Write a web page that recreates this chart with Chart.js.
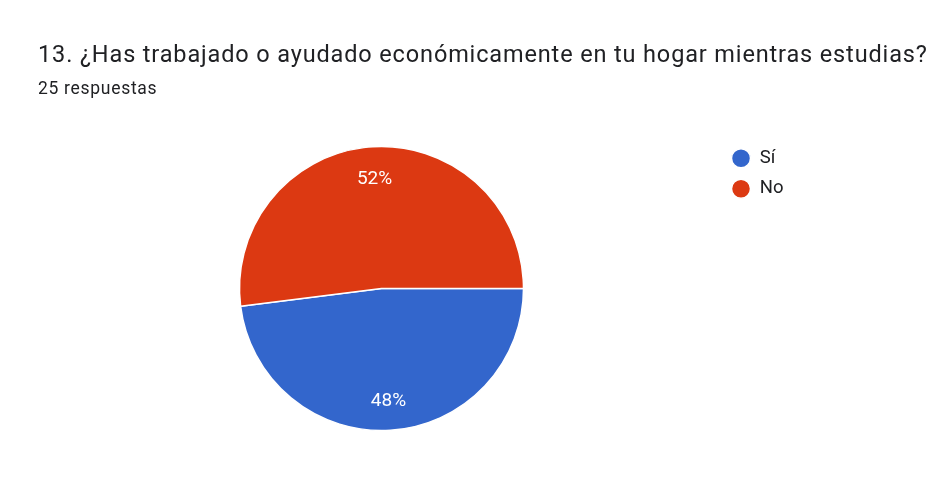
<!DOCTYPE html>
<html>
<head>
<meta charset="utf-8">
<script src="https://cdn.jsdelivr.net/npm/chart.js@4"></script>
<style>
  html, body { margin: 0; padding: 0; background: #fff; }
  body { width: 943px; height: 484px; position: relative; overflow: hidden; font-family: Roboto, sans-serif; }
  #title { position: absolute; left: 38px; top: 38px; font-size: 23.5px; letter-spacing: 0.86px; color: #202124; white-space: nowrap; line-height: 32px; }
  #subtitle { position: absolute; left: 38px; top: 77px; font-size: 17.5px; letter-spacing: 0.7px; color: #202124; white-space: nowrap; line-height: 22px; }
  #wrap { position: absolute; left: 0; top: 0; width: 943px; height: 484px; }
</style>
</head>
<body>
<div id="wrap"><canvas id="c"></canvas></div>
<div id="title">13. ¿Has trabajado o ayudado económicamente en tu hogar mientras estudias?</div>
<div id="subtitle">25 respuestas</div>
<script>
const categories = ["Sí", "No"];
const responses = [12, 13];
const sliceColors = ["#3366cc", "#dc3912"];

const total = responses.reduce((a, b) => a + b, 0);

const sliceLabels = {
  id: 'sliceLabels',
  afterDatasetsDraw(chart) {
    const ctx = chart.ctx;
    const meta = chart.getDatasetMeta(0);
    ctx.save();
    ctx.fillStyle = '#ffffff';
    ctx.font = '19px Roboto';
    ctx.textAlign = 'center';
    ctx.textBaseline = 'middle';
    meta.data.forEach((arc, i) => {
      const p = arc.getProps(['x', 'y', 'startAngle', 'endAngle', 'outerRadius'], true);
      const mid = (p.startAngle + p.endAngle) / 2;
      const r = p.outerRadius * 0.782;
      const pct = Math.round(responses[i] / total * 100) + '%';
      ctx.fillText(pct, p.x + Math.cos(mid) * r, p.y + Math.sin(mid) * r + 1.5);
    });
    ctx.restore();
  }
};

new Chart(document.getElementById('c'), {
  type: 'pie',
  data: {
    labels: categories,
    datasets: [{
      data: responses,
      backgroundColor: sliceColors,
      borderColor: '#ffffff',
      borderWidth: 1.5,
      radius: 142
    }]
  },
  options: {
    responsive: true,
    maintainAspectRatio: false,
    animation: false,
    rotation: 90,
    layout: { padding: { left: 43.5, top: 137, bottom: 44, right: 149.5 } },
    plugins: {
      title: { display: false },
      tooltip: { enabled: false },
      legend: {
        position: 'right',
        align: 'start',
        labels: {
          usePointStyle: true,
          pointStyle: 'circle',
          pointStyleWidth: 19,
          boxHeight: 13.435,
          padding: 12,
          color: '#202124',
          font: { family: 'Roboto', size: 18.5 }
        }
      }
    }
  },
  plugins: [sliceLabels]
});
</script>
</body>
</html>
